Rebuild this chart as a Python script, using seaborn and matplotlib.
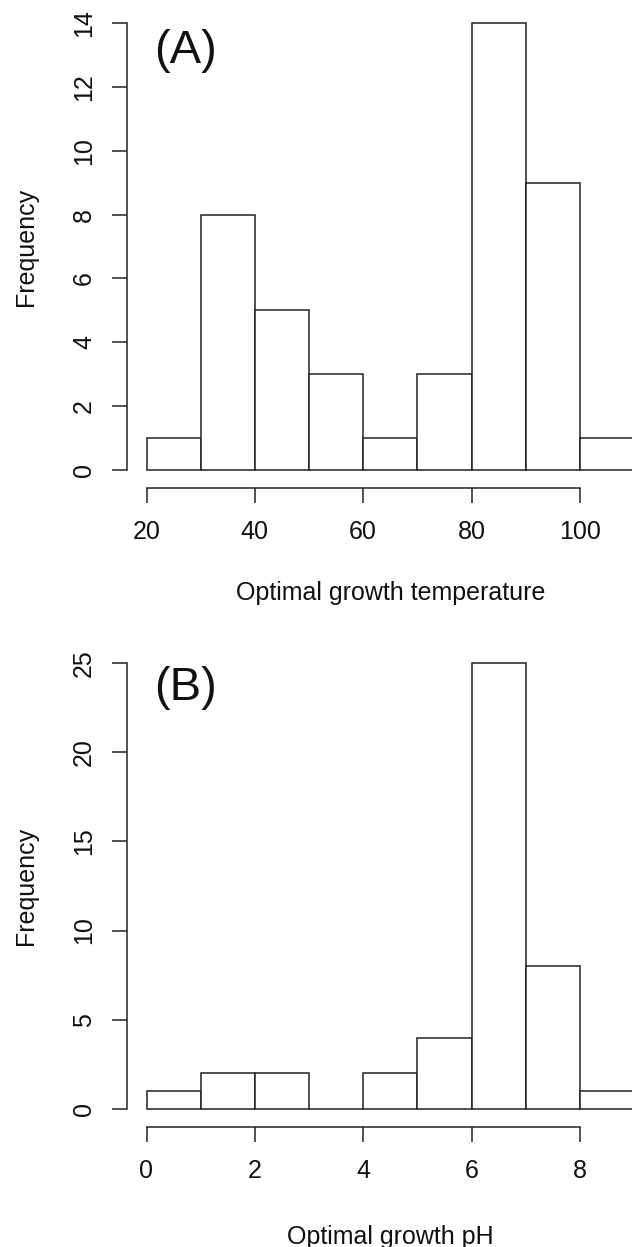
import numpy as np
import pandas as pd
import matplotlib
matplotlib.use("Agg")
import matplotlib.pyplot as plt
import matplotlib.transforms as mtransforms
import seaborn as sns

# ---- data ----
temp_edges = [20, 30, 40, 50, 60, 70, 80, 90, 100, 110]
temp_counts = [1, 8, 5, 3, 1, 3, 14, 9, 1]
temp_xticks = [20, 40, 60, 80, 100]
temp_yticks = [0, 2, 4, 6, 8, 10, 12, 14]

ph_edges = [0, 1, 2, 3, 4, 5, 6, 7, 8, 9]
ph_counts = [1, 2, 2, 0, 2, 4, 25, 8, 1]
ph_xticks = [0, 2, 4, 6, 8]
ph_yticks = [0, 5, 10, 15, 20, 25]

sns.set_style("ticks")
plt.rcParams["font.family"] = ["Liberation Sans", "DejaVu Sans"]

W, H = 632, 1247
fig = plt.figure(figsize=(W / 100, H / 100), dpi=100)

FS = 18
EDGE = "#222222"


def axes_px(left, right, top, bottom):
    return fig.add_axes([left / W, 1 - bottom / H, (right - left) / W, (bottom - top) / H])


def panel(ax, edges, counts, xticks, yticks, xlabel, tag, tag_xy, xlabel_top, ylabel_x, ylabel_y):
    e = np.asarray(edges, float)
    df = pd.DataFrame({"mid": (e[:-1] + e[1:]) / 2, "count": counts})
    sns.histplot(data=df, x="mid", weights="count", bins=list(edges), ax=ax, stat="count",
                 color="white", edgecolor=EDGE, linewidth=1.1, alpha=1.0)
    x0, x1 = edges[0], edges[-1]
    dx = (x1 - x0) * 0.04
    ymax = max(counts)
    dy = ymax * 0.04
    ax.set_xlim(x0 - dx, x1 + dx)
    ax.set_ylim(-dy, ymax + dy)
    for s in ["top", "right"]:
        ax.spines[s].set_visible(False)
    for s in ["left", "bottom"]:
        ax.spines[s].set_visible(True)
        ax.spines[s].set_color(EDGE)
        ax.spines[s].set_linewidth(1.1)
    ax.spines["bottom"].set_bounds(xticks[0], xticks[-1])
    ax.spines["left"].set_bounds(yticks[0], yticks[-1])
    ax.set_xticks(xticks)
    ax.set_yticks(yticks)
    ax.tick_params(axis="both", bottom=True, left=True, direction="out", length=10.8,
                   width=1.1, color=EDGE, labelsize=FS, labelcolor="#111111")
    ax.tick_params(axis="x", pad=12.5)
    ax.tick_params(axis="y", pad=11.5)
    plt.setp(ax.get_yticklabels(), rotation=90, va="center")
    ax.set_xlabel(xlabel, fontsize=FS, color="#111111")
    ax.set_ylabel("Frequency", fontsize=FS, color="#111111")
    tr_x = mtransforms.blended_transform_factory(ax.transAxes, fig.transFigure)
    ax.xaxis.set_label_coords(0.5, 1 - xlabel_top / H, transform=tr_x)
    ax.yaxis.set_label_coords(ylabel_x / W, 1 - ylabel_y / H, transform=fig.transFigure)
    ax.xaxis.label.set_va("top")
    fig.text(tag_xy[0] / W, 1 - tag_xy[1] / H, tag, fontsize=34, ha="left",
             va="baseline", color="#111111")


axA = axes_px(127, 653.5, 5, 488)
panel(axA, temp_edges, temp_counts, temp_xticks, temp_yticks,
      "Optimal growth temperature", "(A)", (154, 63), 581, 38, 246.5)

axB = axes_px(127, 653.5, 644.8, 1127)
panel(axB, ph_edges, ph_counts, ph_xticks, ph_yticks,
      "Optimal growth pH", "(B)", (154, 700), 1225, 38, 886)

fig.savefig("out.png", dpi=100)
